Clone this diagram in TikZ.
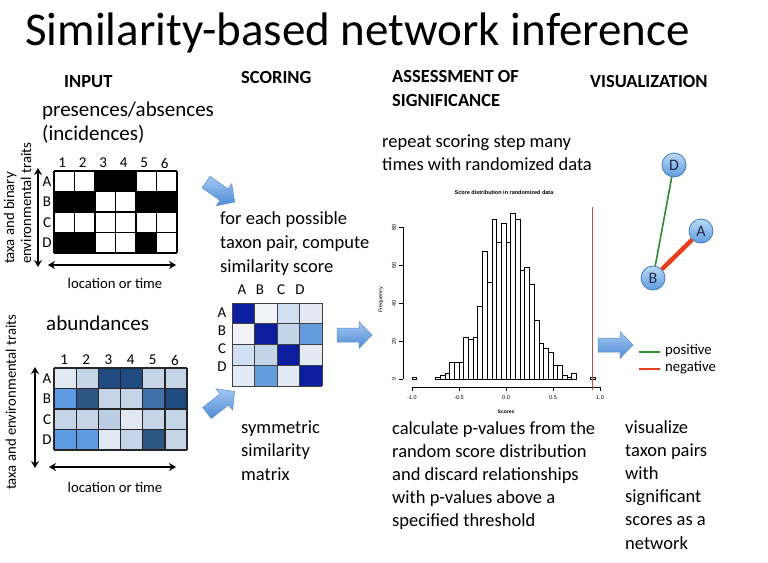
\documentclass[tikz,border=0pt]{standalone}
\usepackage{fontspec}
\setmainfont{Carlito}
\newfontfamily\plotfont{Liberation Sans}
\usetikzlibrary{arrows.meta}
\definecolor{a1}{HTML}{E1E8F2}
\definecolor{a2}{HTML}{C6D4E7}
\definecolor{a3}{HTML}{1F4B80}
\definecolor{a4}{HTML}{5D9CE2}
\definecolor{a5}{HTML}{2E5684}
\definecolor{a6}{HTML}{3F70AA}
\definecolor{a7}{HTML}{BCCEE4}
\definecolor{s0}{HTML}{0A1E9E}
\definecolor{s1}{HTML}{F1F2F5}
\definecolor{s2}{HTML}{D0DFF1}
\definecolor{s3}{HTML}{E4EAF3}
\definecolor{s4}{HTML}{C3D4E9}
\definecolor{s5}{HTML}{639DDB}
\definecolor{arrtop}{HTML}{A4C8F0}
\definecolor{arrbot}{HTML}{4F8BD6}
\definecolor{arredge}{HTML}{5B8FCF}
\definecolor{nodetop}{HTML}{BCD9F6}
\definecolor{nodebot}{HTML}{5E9BDE}
\definecolor{nodeedge}{HTML}{3F7BC2}
\definecolor{nodetext}{HTML}{1A2850}
\definecolor{posgreen}{HTML}{2E8B2E}
\definecolor{negred}{HTML}{E8401C}
\definecolor{cutred}{HTML}{B5504A}
\newcommand\blockarr[2]{%
  \begin{scope}[shift={#1},rotate=#2]
    \path[blockarrow] (0,-7) -- (22,-7) -- (22,-13.5) -- (35,0) -- (22,13.5) -- (22,7) -- (0,7) -- cycle;
  \end{scope}}
\begin{document}
\begin{tikzpicture}[x=1pt,y=-1pt,
  body/.style={font=\fontsize{18.5}{23}\selectfont, inner sep=0, anchor=base west},
  headtxt/.style={font=\fontsize{18.5}{23}\selectfont\bfseries, inner sep=0, anchor=base west},
  subtxt/.style={font=\fontsize{21}{24}\selectfont, inner sep=0, anchor=base west},
  lab/.style={font=\fontsize{15}{17}\selectfont, inner sep=0},
  smalltxt/.style={font=\fontsize{14.7}{16}\selectfont, inner sep=0},
  plottxt/.style={font=\plotfont\fontsize{5.5}{6}\selectfont, inner sep=0},
  gridline/.style={line width=1.5pt, black},
  abgrid/.style={line width=1.3pt, black!85},
  simgrid/.style={line width=1pt, black!75},
  dbl/.style={line width=1.8pt, {Stealth[length=7pt,width=8pt]}-{Stealth[length=7pt,width=8pt]}},
  bar/.style={line width=0.7pt, black, fill=white},
  axisline/.style={line width=0.7pt, black},
  blockarrow/.style={top color=arrtop, bottom color=arrbot, draw=arredge, line width=0.5pt},
  netnode/.style={circle, minimum size=24pt, inner sep=0, top color=nodetop, bottom color=nodebot, draw=nodeedge, line width=0.8pt, text=nodetext, font=\fontsize{16}{16}\selectfont},
]
\useasboundingbox (0,0) rectangle (768,562);
\fill[white] (0,0) rectangle (768,562);

% title and headings
\node[anchor=base west, inner sep=0, font=\fontsize{47}{50}\selectfont] (title) at (25,45) {Similarity-based network inference};
\node[headtxt] (hin) at (64,87) {INPUT};
\node[headtxt] (hsc) at (241,83) {SCORING};
\node[headtxt] (has1) at (392,82) {ASSESSMENT OF};
\node[headtxt] (has2) at (392,106) {SIGNIFICANCE};
\node[headtxt] (hvis) at (590,87) {VISUALIZATION};

\node[subtxt] (pa1) at (42,116) {presences/absences};
\node[subtxt] (pa2) at (42,140) {(incidences)};
\node[subtxt] (ab) at (46,330) {abundances};

% binary matrix
\def\bx{54}\def\by{171}\def\bw{20.5}\def\bh{20.5}
\foreach \row [count=\r from 0] in {{0,0,1,1,0,0},{1,1,0,0,1,1},{0,0,0,0,0,0},{1,1,0,0,1,0}} {
  \foreach \v [count=\c from 0] in \row {
    \ifnum\v=1 \fill[black] ({\bx+\c*\bw},{\by+\r*\bh}) rectangle ++(\bw,\bh); \fi
  }
}
\foreach \c in {0,...,6} \draw[gridline] ({\bx+\c*\bw},\by) -- ({\bx+\c*\bw},{\by+4*\bh});
\foreach \r in {0,...,4} \draw[gridline] (\bx,{\by+\r*\bh}) -- ({\bx+6*\bw},{\by+\r*\bh});
\foreach \n [count=\c from 0] in {1,...,6} \node[lab] (bc\n) at ({\bx+(\c+0.5)*\bw-2},163) {\n};
\foreach \n [count=\r from 0] in {A,B,C,D} \node[lab] (br\n) at (47,{\by+(\r+0.5)*\bh}) {\n};
\coordinate (bvt) at (38,168); \coordinate (bvb) at (38,267);
\coordinate (bhl) at (48,265); \coordinate (bhr) at (176,265);
\draw[dbl] (bvt) -- (bvb);
\draw[dbl] (bhl) -- (bhr);
\node[smalltxt] (bloc) at (115,283) {location or time};
\node[smalltxt, rotate=90, anchor=base west] (bt1) at (14,264) {taxa and binary};
\node[smalltxt, rotate=90, anchor=base west] (bt2) at (31,264) {environmental traits};

% abundance matrix
\def\ax{54}\def\ay{368}\def\aw{22.17}\def\ah{20.5}
\foreach \row [count=\r from 0] in {{a1,a2,a3,a3,a2,a2},{a4,a5,a2,a2,a6,a3},{a2,a2,a7,a1,a2,a2},{a4,a4,a1,a2,a5,a2}} {
  \foreach \v [count=\c from 0] in \row {
    \fill[fill=\v] ({\ax+\c*\aw},{\ay+\r*\ah}) rectangle ++(\aw,\ah);
  }
}
\foreach \c in {0,...,6} \draw[abgrid] ({\ax+\c*\aw},\ay) -- ({\ax+\c*\aw},{\ay+4*\ah});
\foreach \r in {0,...,4} \draw[abgrid] (\ax,{\ay+\r*\ah}) -- ({\ax+6*\aw},{\ay+\r*\ah});
\foreach \n [count=\c from 0] in {1,...,6} \node[lab] (ac\n) at ({\ax+(\c+0.5)*\aw-1},360) {\n};
\foreach \n [count=\r from 0] in {A,B,C,D} \node[lab] (ar\n) at (47,{\ay+(\r+0.5)*\ah}) {\n};
\coordinate (avt) at (35,367); \coordinate (avb) at (35,468);
\coordinate (ahl) at (49,467); \coordinate (ahr) at (176,467);
\draw[dbl] (avt) -- (avb);
\draw[dbl] (ahl) -- (ahr);
\node[smalltxt] (aloc) at (115,487) {location or time};
\node[smalltxt, rotate=90, anchor=base west] (at1) at (16,490) {taxa and environmental traits};

% scoring column
\foreach \t [count=\i] in {for each possible, {taxon pair, compute}, similarity score}
  \node[body] (sc\i) at (220,{224+24*(\i-1)}) {\t};
\def\sx{232}\def\sy{303}\def\sw{22.5}\def\sh{20.75}
\foreach \row [count=\r from 0] in {{s0,s1,s2,s3},{s1,s0,s4,s5},{s2,s4,s0,s3},{s3,s5,s3,s0}} {
  \foreach \v [count=\c from 0] in \row {
    \fill[fill=\v] ({\sx+\c*\sw},{\sy+\r*\sh}) rectangle ++(\sw,\sh);
  }
}
\foreach \c in {0,...,4} \draw[simgrid] ({\sx+\c*\sw},\sy) -- ({\sx+\c*\sw},{\sy+4*\sh});
\foreach \r in {0,...,4} \draw[simgrid] (\sx,{\sy+\r*\sh}) -- ({\sx+4*\sw},{\sy+\r*\sh});
\foreach \n/\xx in {A/242,B/260,C/281,D/300} \node[lab] (scol\n) at (\xx,290) {\n};
\foreach \n/\yy in {A/313,B/331,C/349,D/367} \node[lab] (srow\n) at (222,\yy) {\n};
\foreach \t [count=\i] in {symmetric, similarity, matrix}
  \node[body] (sm\i) at (241,{433+23.5*(\i-1)}) {\t};

% block arrows
\blockarr{(206,182)}{-35}
\blockarr{(207,413)}{38}
\blockarr{(337,335)}{0}
\blockarr{(598,345)}{0}

% assessment column
\foreach \t [count=\i] in {repeat scoring step many, times with randomized data}
  \node[body] (rp\i) at (382,{147+23*(\i-1)}) {\t};
\foreach \t [count=\i] in {calculate p-values from the, random score distribution, and discard relationships, with p-values above a, specified threshold}
  \node[body] (cp\i) at (392,{434+23*(\i-1)}) {\t};

% histogram
\node[plottxt, font=\plotfont\bfseries\fontsize{5.5}{6}\selectfont] (htitle) at (504,193) {Score distribution in randomized data};
\foreach \s/\n in {-1.0/1, -0.75/1, -0.70/2, -0.65/3, -0.60/9, -0.55/9, -0.50/9, -0.45/22, -0.40/21, -0.35/22, -0.30/38, -0.25/67, -0.20/51, -0.15/84, -0.10/72, -0.05/82, 0.00/72, 0.05/87, 0.10/84, 0.15/57, 0.20/59, 0.25/50, 0.30/31, 0.35/19, 0.40/16, 0.45/14, 0.50/7, 0.55/7, 0.60/2, 0.65/1, 0.70/3, 0.90/1}
  \draw[bar] ({506+94*\s},379) rectangle ({506+94*(\s+0.05)},{379-1.9*\n});
\draw[axisline] (403,379) -- (403,227);
\foreach \v in {0,20,40,60,80} {
  \draw[axisline] (403,{379-1.9*\v}) -- (399,{379-1.9*\v});
  \node[plottxt, rotate=90] (yl\v) at (394,{379-1.9*\v}) {\v};
}
\node[plottxt, rotate=90] (ylab) at (381,300) {Frequency};
\draw[axisline] (412,387) -- (600,387);
\foreach \v/\t in {-1/-1.0, -0.5/-0.5, 0/0.0, 0.5/0.5, 1/1.0} {
  \draw[axisline] ({506+94*\v},387) -- ({506+94*\v},391);
  \node[plottxt] (xl\t) at ({506+94*\v},398) {\t};
}
\node[plottxt, font=\plotfont\bfseries\fontsize{5}{6}\selectfont] (xlab) at (506,412) {Scores};
\coordinate (cut1) at (592,207); \coordinate (cut2) at (592,390);
\draw[cutred, line width=0.9pt] (cut1) -- (cut2);

% network
\node[netnode] (nD) at (674,165) {D};
\node[netnode] (nA) at (701,231) {A};
\node[netnode] (nB) at (653,278) {B};
\draw[posgreen, line width=1.6pt] (nD) -- (nB);
\draw[negred, line width=4.5pt] (nA) -- (nB);
\coordinate (g1) at (639,352); \coordinate (g2) at (660,352);
\coordinate (r1) at (639,369); \coordinate (r2) at (660,369);
\draw[posgreen, line width=2pt] (g1) -- (g2);
\draw[negred, line width=2pt] (r1) -- (r2);
\node[smalltxt, anchor=west] (lpos) at (665,351) {positive};
\node[smalltxt, anchor=west] (lneg) at (665,368) {negative};
\foreach \t [count=\i] in {visualize, taxon pairs, with, significant, scores as a, network}
  \node[body] (vz\i) at (625,{433+23.2*(\i-1)}) {\t};
\end{tikzpicture}
\end{document}
